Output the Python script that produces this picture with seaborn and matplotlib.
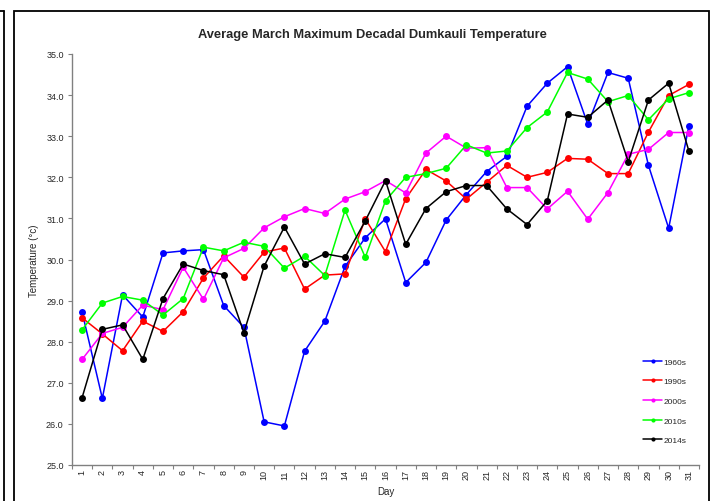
import matplotlib
matplotlib.use("Agg")
import matplotlib.pyplot as plt
import seaborn as sns
import pandas as pd
from matplotlib.patches import Rectangle
from matplotlib.lines import Line2D
from matplotlib.ticker import FixedLocator, FormatStrFormatter

days = list(range(1, 32))
decades = ["1960s", "1990s", "2000s", "2010s", "2014s"]
colors = ["#0000FF", "#FF0000", "#FF00FF", "#00FF00", "#000000"]

t1960 = [28.72, 26.62, 29.14, 28.6, 30.16, 30.21, 30.24, 28.88, 28.35, 26.05,
         25.95, 27.77, 28.50, 29.83, 30.53, 30.99, 29.44, 29.93, 30.96, 31.58,
         32.14, 32.51, 33.73, 34.29, 34.69, 33.29, 34.55, 34.41, 32.29, 30.76, 33.25]
t1990 = [28.58, 28.19, 27.78, 28.50, 28.25, 28.73, 29.55, 30.09, 29.57, 30.18,
         30.28, 29.28, 29.62, 29.65, 30.99, 30.19, 31.48, 32.19, 31.91, 31.47,
         31.88, 32.29, 32.00, 32.12, 32.46, 32.44, 32.09, 32.09, 33.10, 33.99, 34.26]
t2000 = [27.57, 28.2, 28.35, 28.89, 28.78, 29.81, 29.03, 30.04, 30.27, 30.77,
         31.04, 31.24, 31.12, 31.47, 31.65, 31.92, 31.62, 32.59, 33.00, 32.71,
         32.72, 31.75, 31.75, 31.23, 31.66, 30.98, 31.63, 32.56, 32.68, 33.09, 33.09]
t2010 = [28.29, 28.94, 29.10, 29.01, 28.65, 29.05, 30.30, 30.21, 30.42, 30.32,
         29.79, 30.08, 29.61, 31.20, 30.05, 31.43, 32.00, 32.09, 32.22, 32.79,
         32.59, 32.64, 33.21, 33.59, 34.55, 34.39, 33.84, 33.99, 33.40, 33.91, 34.06]
t2014 = [26.64, 28.30, 28.41, 27.57, 29.05, 29.89, 29.73, 29.63, 28.22, 29.84,
         30.79, 29.89, 30.14, 30.05, 30.94, 31.92, 30.37, 31.24, 31.65, 31.80,
         31.80, 31.23, 30.85, 31.43, 33.54, 33.46, 33.88, 32.38, 33.88, 34.29, 32.64]
y_ticks = [25.0, 26.0, 27.0, 28.0, 29.0, 30.0, 31.0, 32.0, 33.0, 34.0, 35.0]

series = [t1960, t1990, t2000, t2010, t2014]
rows = []
for name, vals in zip(decades, series):
    for d, v in zip(days, vals):
        rows.append({"Day": d, "Temp": v, "Decade": name})
df = pd.DataFrame(rows)

sns.set_style("white")
plt.rcParams["font.family"] = ["Liberation Sans", "DejaVu Sans"]

fig = plt.figure(figsize=(7.14, 5.02), dpi=100)
ax = fig.add_axes([72 / 714, 36 / 502, 627 / 714, 411 / 502])

sns.lineplot(data=df, x="Day", y="Temp", hue="Decade", hue_order=decades,
             palette=dict(zip(decades, colors)), marker="o", markersize=5,
             markeredgewidth=0, linewidth=1.1, ax=ax, legend=False)

ax.set_xlim(0.5, 31.5)
ax.set_ylim(25, 35)
ax.set_xticks(days)
ax.set_xticklabels([str(d) for d in days], rotation=90, fontsize=6.5)
ax.xaxis.set_minor_locator(FixedLocator([d + 0.5 for d in range(0, 32)]))
ax.tick_params(axis="x", which="major", length=0, pad=3)
ax.tick_params(axis="x", which="minor", length=3, width=0.8, color="#808080", direction="out", bottom=True)
ax.set_yticks(y_ticks)
ax.yaxis.set_major_formatter(FormatStrFormatter("%.1f"))
ax.tick_params(axis="y", length=3, width=0.8, color="#808080", direction="out", left=True, labelsize=6.5, pad=3)

for s in ["top", "right"]:
    ax.spines[s].set_visible(False)
for s in ["left", "bottom"]:
    ax.spines[s].set_color("#808080")
    ax.spines[s].set_linewidth(1.0)

ax.set_xlabel("Day", fontsize=7, labelpad=5)
ax.set_ylabel("Temperature (°c)", fontsize=7, labelpad=5)
fig.text(372 / 714, (502 - 35) / 502, "Average March Maximum Decadal Dumkauli Temperature",
         fontsize=9.3, fontweight="bold", ha="center", va="center")

handles = [Line2D([0], [0], color=c, lw=1.1, marker="o", markersize=3, markeredgewidth=0)
           for c in colors]
leg = fig.legend(handles, decades, loc="center left",
                 bbox_to_anchor=(643 / 714, (502 - 402) / 502),
                 frameon=False, fontsize=6, handlelength=2.3, handletextpad=0.2,
                 labelspacing=1.42, borderpad=0, borderaxespad=0)

# outer frames
fig.add_artist(Rectangle((14 / 714, -0.02), 695 / 714, (502 - 12) / 502 + 0.02,
                         transform=fig.transFigure, fill=False, lw=1.3, ec="black"))
fig.add_artist(Line2D([0, 4 / 714], [(502 - 12) / 502] * 2, transform=fig.transFigure, lw=1.3, color="black"))
fig.add_artist(Line2D([4 / 714, 4 / 714], [(502 - 12) / 502, -0.02], transform=fig.transFigure, lw=1.3, color="black"))

fig.savefig("out.png", dpi=100)
